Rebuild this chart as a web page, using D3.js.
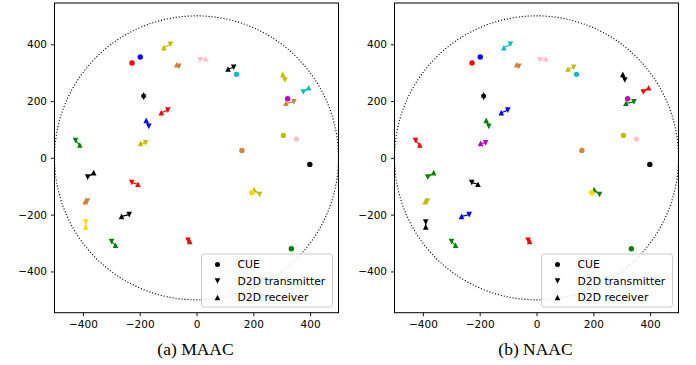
<!DOCTYPE html>
<html><head><meta charset="utf-8">
<script src="https://cdn.jsdelivr.net/npm/d3@7"></script>
<style>body{margin:0;background:#fff}</style>
</head><body><svg id="c" width="696" height="365"></svg>
<script>
// ---- data ----
const panelTitles = ["(a) MAAC", "(b) NAAC"];
const xTicks = [-400, -200, 0, 200, 400];
const yTicks = [-400, -200, 0, 200, 400];
const cellRadius = 500;

// cellular users (same in both panels)
const cueX = [-227, -198, 141, 321, 306, 352, 160, 399, 334, 195];
const cueY = [334, 355, 294, 208, 79, 66, 26, -23, -320, -123];
const cueColors = ["r", "b", "c", "m", "y", "pink", "peru", "k", "g", "gold"];

// D2D pairs: transmitter (tx) and receiver (rx)
const txX = [-92, -62, -101, -168, -179, -426, -186, 12, 131, 311, 376, 343, -383, -228, -384, -237, -390, -299, -30, 222];
const txY = [400, 322, 168, 111, 53, 61, 213, 345, 319, 274, 232, 197, -68, -87, -152, -200, -226, -295, -290, -129];
const rxX = [-115, -70, -124, -177, -197, -411, -186, 33, 111, 304, 395, 315, -362, -206, -392, -264, -390, -285, -24, 203];
const rxY = [388, 328, 159, 132, 51, 45, 222, 349, 313, 294, 247, 192, -52, -93, -154, -206, -243, -308, -294, -112];
// channel (colour) assigned to each pair by each method
const pairColorsMAAC = ["y", "peru", "r", "b", "y", "g", "k", "pink", "k", "y", "c", "peru", "k", "r", "peru", "k", "gold", "g", "r", "y"];
const pairColorsNAAC = ["c", "peru", "b", "g", "m", "r", "k", "pink", "y", "k", "r", "g", "g", "k", "y", "b", "k", "g", "r", "g"];
const pairColors = [pairColorsMAAC, pairColorsNAAC];

const legendLabels = ["CUE", "D2D transmitter", "D2D receiver"];

// ---- drawing ----
const colorMap = {r: "#ff0000", b: "#0000ff", g: "#008000", c: "#00bfbf", m: "#bf00bf",
  y: "#bfbf00", k: "#000000", pink: "#ffc0cb", peru: "#cd853f", gold: "#ffd700"};
const col = c => colorMap[c] || c;

const svg = d3.select("#c");
const axW = 284, axTop = 3, axBot = 312.7;
const pxPerUnit = axW / 1000;
const yHalf = (axBot - axTop) / 2 / pxPerUnit;
const panelLefts = [54.5, 394.5];
const fmt = d => d < 0 ? "\u2212" + Math.abs(d) : String(d);
const ms = 2.8;
const triDown = `M0,${ms} L${-ms},${-ms} L${ms},${-ms} Z`;
const triUp = `M0,${-ms} L${-ms},${ms} L${ms},${ms} Z`;

panelLefts.forEach((L, pi) => {
  const x = d3.scaleLinear().domain([-500, 500]).range([L, L + axW]);
  const y = d3.scaleLinear().domain([-yHalf, yHalf]).range([axBot, axTop]);
  const g = svg.append("g");

  // dotted cell boundary
  g.append("circle").attr("cx", x(0)).attr("cy", y(0))
    .attr("r", x(cellRadius) - x(0))
    .attr("fill", "none").attr("stroke", "#000").attr("stroke-width", 1.1)
    .attr("stroke-dasharray", "1.1,1.9");

  const pc = pairColors[pi];
  const idx = d3.range(txX.length);
  // pair links
  g.selectAll("line.pair").data(idx).join("line")
    .attr("x1", i => x(txX[i])).attr("y1", i => y(txY[i]))
    .attr("x2", i => x(rxX[i])).attr("y2", i => y(rxY[i]))
    .attr("stroke", i => col(pc[i])).attr("stroke-width", 1.2);
  g.selectAll("path.tx").data(idx).join("path")
    .attr("d", triDown).attr("transform", i => `translate(${x(txX[i])},${y(txY[i])})`)
    .attr("fill", i => col(pc[i]));
  g.selectAll("path.rx").data(idx).join("path")
    .attr("d", triUp).attr("transform", i => `translate(${x(rxX[i])},${y(rxY[i])})`)
    .attr("fill", i => col(pc[i]));
  g.selectAll("circle.cue").data(d3.range(cueX.length)).join("circle")
    .attr("cx", i => x(cueX[i])).attr("cy", i => y(cueY[i])).attr("r", 2.7)
    .attr("fill", i => col(cueColors[i]));

  // axes
  const ax = g.append("g").attr("transform", `translate(0,${axBot})`)
    .call(d3.axisBottom(x).tickValues(xTicks).tickSize(3.5).tickPadding(4).tickFormat(fmt));
  const ay = g.append("g").attr("transform", `translate(${L},0)`)
    .call(d3.axisLeft(y).tickValues(yTicks).tickSize(3.5).tickPadding(4).tickFormat(fmt));
  [ax, ay].forEach(a => {
    a.select(".domain").remove();
    a.selectAll("line").attr("stroke", "#000").attr("stroke-width", 0.9);
    a.selectAll("text").attr("fill", "#000").style("font-family", "DejaVu Sans").style("font-size", "10.5px");
  });

  // frame
  g.append("rect").attr("x", L).attr("y", axTop).attr("width", axW).attr("height", axBot - axTop)
    .attr("fill", "none").attr("stroke", "#000").attr("stroke-width", 1);

  // legend
  const lx = L + 147, ly = 254;
  const lg = g.append("g");
  lg.append("rect").attr("x", lx).attr("y", ly).attr("width", 131).attr("height", 53)
    .attr("rx", 2.5).attr("fill", "#fff").attr("fill-opacity", 0.85)
    .attr("stroke", "#cccccc").attr("stroke-width", 1);
  legendLabels.forEach((t, k) => {
    const cy = ly + 10.5 + k * 16.5;
    const mx = lx + 16;
    if (k === 0) lg.append("circle").attr("cx", mx).attr("cy", cy).attr("r", 2.5).attr("fill", "#000");
    else lg.append("path").attr("d", k === 1 ? triDown : triUp)
      .attr("transform", `translate(${mx},${cy})`).attr("fill", "#000");
    lg.append("text").attr("x", lx + 36).attr("y", cy).attr("dy", "0.36em")
      .style("font-family", "DejaVu Sans").style("font-size", "10.8px").attr("fill", "#000").text(t);
  });

  // caption
  g.append("text").attr("x", L + axW / 2 - 1).attr("y", 354.5).attr("text-anchor", "middle")
    .style("font-family", "Liberation Serif").style("font-size", "17.5px").attr("fill", "#000")
    .text(panelTitles[pi]);
});
</script></body></html>
